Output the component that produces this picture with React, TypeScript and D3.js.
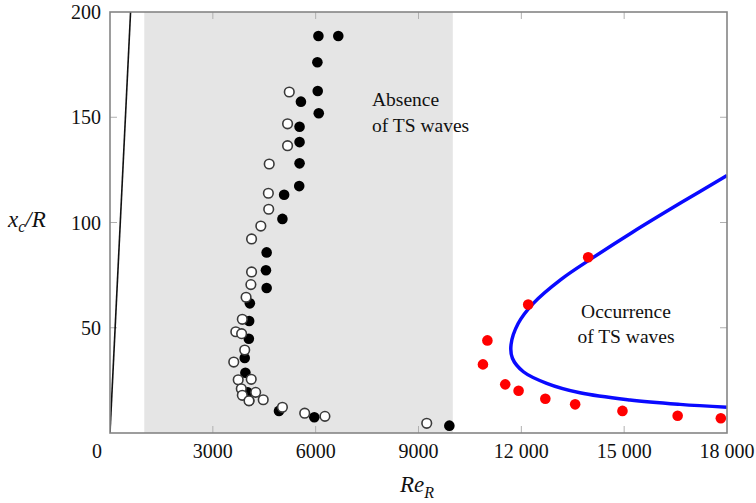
import React from 'react';
import * as d3 from 'd3';

// tick values and labels
const xTicks = [0, 3000, 6000, 9000, 12000, 15000, 18000];
const xTickLabels = ['0', '3000', '6000', '9000', '12 000', '15 000', '18 000'];
const yTicks = [50, 100, 150, 200];
const yTickLabels = ['50', '100', '150', '200'];

// shaded band (no TS waves) on Re_R
const absenceBand = [1000, 10000];

// straight black line through origin
const blackLine = [
  { re: 0, xc: 0 },
  { re: 600, xc: 200 },
];

// filled black circles
const filledPoints = [
  { re: 6080, xc: 188.6 }, { re: 6660, xc: 188.6 }, { re: 6050, xc: 176.1 },
  { re: 6060, xc: 162.5 }, { re: 5570, xc: 157.4 }, { re: 6090, xc: 151.9 },
  { re: 5530, xc: 145.5 }, { re: 5530, xc: 138.2 }, { re: 5530, xc: 128.1 },
  { re: 5520, xc: 117.3 }, { re: 5080, xc: 113.2 }, { re: 5030, xc: 101.7 },
  { re: 4570, xc: 85.8 }, { re: 4550, xc: 77.3 }, { re: 4570, xc: 68.9 },
  { re: 4080, xc: 61.6 }, { re: 4060, xc: 53.2 }, { re: 4050, xc: 44.8 },
  { re: 3930, xc: 35.6 }, { re: 3950, xc: 28.6 }, { re: 4020, xc: 19.3 },
  { re: 4060, xc: 15.3 }, { re: 4930, xc: 10.5 }, { re: 5960, xc: 7.5 },
  { re: 9900, xc: 3.5 },
];

// open circles
const openPoints = [
  { re: 5230, xc: 162.0 }, { re: 5180, xc: 146.9 }, { re: 5180, xc: 136.5 },
  { re: 4645, xc: 127.8 }, { re: 4620, xc: 113.9 }, { re: 4630, xc: 106.3 },
  { re: 4400, xc: 98.3 }, { re: 4130, xc: 92.2 }, { re: 4130, xc: 76.5 },
  { re: 4110, xc: 70.5 }, { re: 3970, xc: 64.5 }, { re: 3860, xc: 54.0 },
  { re: 3670, xc: 48.1 }, { re: 3840, xc: 47.2 }, { re: 3930, xc: 39.4 },
  { re: 3610, xc: 33.7 }, { re: 3740, xc: 25.3 }, { re: 4120, xc: 25.5 },
  { re: 3830, xc: 21.0 }, { re: 4250, xc: 19.3 }, { re: 3860, xc: 17.9 },
  { re: 4055, xc: 15.3 }, { re: 4470, xc: 15.8 }, { re: 5030, xc: 12.2 },
  { re: 5680, xc: 9.4 }, { re: 6270, xc: 7.9 }, { re: 9240, xc: 4.6 },
];

// red circles (TS waves observed)
const redPoints = [
  { re: 13950, xc: 83.5 }, { re: 12200, xc: 61.0 }, { re: 11010, xc: 44.0 },
  { re: 10880, xc: 32.6 }, { re: 11530, xc: 23.1 }, { re: 11920, xc: 20.1 },
  { re: 12700, xc: 16.3 }, { re: 13570, xc: 13.6 }, { re: 14950, xc: 10.5 },
  { re: 16560, xc: 8.2 }, { re: 17820, xc: 7.0 },
];

// blue neutral curve
const neutralCurve = [
  { re: 18000, xc: 122.3 }, { re: 16690, xc: 109.7 }, { re: 15255, xc: 95.5 },
  { re: 14090, xc: 83.3 }, { re: 13160, xc: 73.0 }, { re: 12350, xc: 61.6 },
  { re: 11907, xc: 52.0 }, { re: 11700, xc: 42.0 }, { re: 11740, xc: 35.5 },
  { re: 12060, xc: 29.1 }, { re: 12740, xc: 23.6 }, { re: 13710, xc: 19.1 },
  { re: 15170, xc: 15.7 }, { re: 16630, xc: 13.6 }, { re: 18000, xc: 12.2 },
];

const W = 756;
const H = 503;
const serif = '"Liberation Serif", "DejaVu Serif", serif';

const App = () => {
  const x = d3.scaleLinear().domain([0, 18000]).range([110, 727]);
  const y = d3.scaleLinear().domain([0, 200]).range([433, 12]);

  const line = d3
    .line<{ re: number; xc: number }>()
    .x(d => x(d.re))
    .y(d => y(d.xc));

  const curve = d3
    .line<{ re: number; xc: number }>()
    .x(d => x(d.re))
    .y(d => y(d.xc))
    .curve(d3.curveCatmullRom.alpha(0.5));

  const [x0, x1] = x.range();
  const [y0, y1] = y.range();
  const axisColor = '#858585';
  const tickColor = '#b0b0b0';
  const innerX = xTicks.filter(t => t > 0 && t < 18000);
  const innerY = yTicks.filter(t => t < 200);

  return (
    <svg width={W} height={H} style={{ position: 'absolute', left: 0, top: 0, background: '#fff' }}>
      <defs>
        <clipPath id="plot">
          <rect x={x0} y={y1} width={x1 - x0} height={y0 - y1} />
        </clipPath>
      </defs>

      {/* shaded band */}
      <rect
        x={x(absenceBand[0])}
        y={y1}
        width={x(absenceBand[1]) - x(absenceBand[0])}
        height={y0 - y1}
        fill="#e5e5e5"
      />

      {/* tick marks, pointing inward */}
      {innerX.map(t => (
        <g key={'xt' + t} stroke={tickColor} strokeWidth={1}>
          <line x1={x(t)} x2={x(t)} y1={y0} y2={y0 - 7} />
          <line x1={x(t)} x2={x(t)} y1={y1} y2={y1 + 7} />
        </g>
      ))}
      {innerY.map(t => (
        <g key={'yt' + t} stroke={tickColor} strokeWidth={1}>
          <line x1={x0} x2={x0 + 7} y1={y(t)} y2={y(t)} />
          <line x1={x1} x2={x1 - 7} y1={y(t)} y2={y(t)} />
        </g>
      ))}

      <g clipPath="url(#plot)">
        <path d={line(blackLine) || ''} fill="none" stroke="#111" strokeWidth={1.6} />
        <path d={curve(neutralCurve) || ''} fill="none" stroke="#0a0aff" strokeWidth={3.5} />
      </g>

      {filledPoints.map((d, i) => (
        <circle key={'f' + i} cx={x(d.re)} cy={y(d.xc)} r={5.3} fill="#000" />
      ))}
      {openPoints.map((d, i) => (
        <circle key={'o' + i} cx={x(d.re)} cy={y(d.xc)} r={4.8} fill="#fff" stroke="#3a3a3a" strokeWidth={1.6} />
      ))}
      {redPoints.map((d, i) => (
        <circle key={'r' + i} cx={x(d.re)} cy={y(d.xc)} r={5.3} fill="#f00" />
      ))}

      {/* frame */}
      <rect x={x0} y={y1} width={x1 - x0} height={y0 - y1} fill="none" stroke={axisColor} strokeWidth={1.6} />

      {/* tick labels */}
      <g fontFamily={serif} fontSize={20} fill="#111">
        {xTicks.map((t, i) => (
          <text key={'xl' + t} x={t === 0 ? x(t) - 13 : x(t)} y={458} textAnchor="middle">
            {xTickLabels[i]}
          </text>
        ))}
        {yTicks.map((t, i) => (
          <text key={'yl' + t} x={101} y={y(t)} dy="0.35em" textAnchor="end">
            {yTickLabels[i]}
          </text>
        ))}
      </g>

      {/* annotations */}
      <g fontFamily={serif} fontSize={19.5} fill="#111">
        <text x={372} y={106}>Absence</text>
        <text x={372} y={132}>of TS waves</text>
        <text x={626} y={318} textAnchor="middle">Occurrence</text>
        <text x={626} y={343} textAnchor="middle">of TS waves</text>
      </g>

      {/* axis titles */}
      <text x={400} y={492} fontFamily={serif} fontSize={23} fontStyle="italic" fill="#111">
        Re<tspan fontSize={16} dy={6}>R</tspan>
      </text>
      <text x={8} y={227} fontFamily={serif} fontSize={23} fontStyle="italic" fill="#111">
        x<tspan fontSize={16} dy={5}>c</tspan>
        <tspan dy={-5}>/R</tspan>
      </text>
    </svg>
  );
};

export default App;
